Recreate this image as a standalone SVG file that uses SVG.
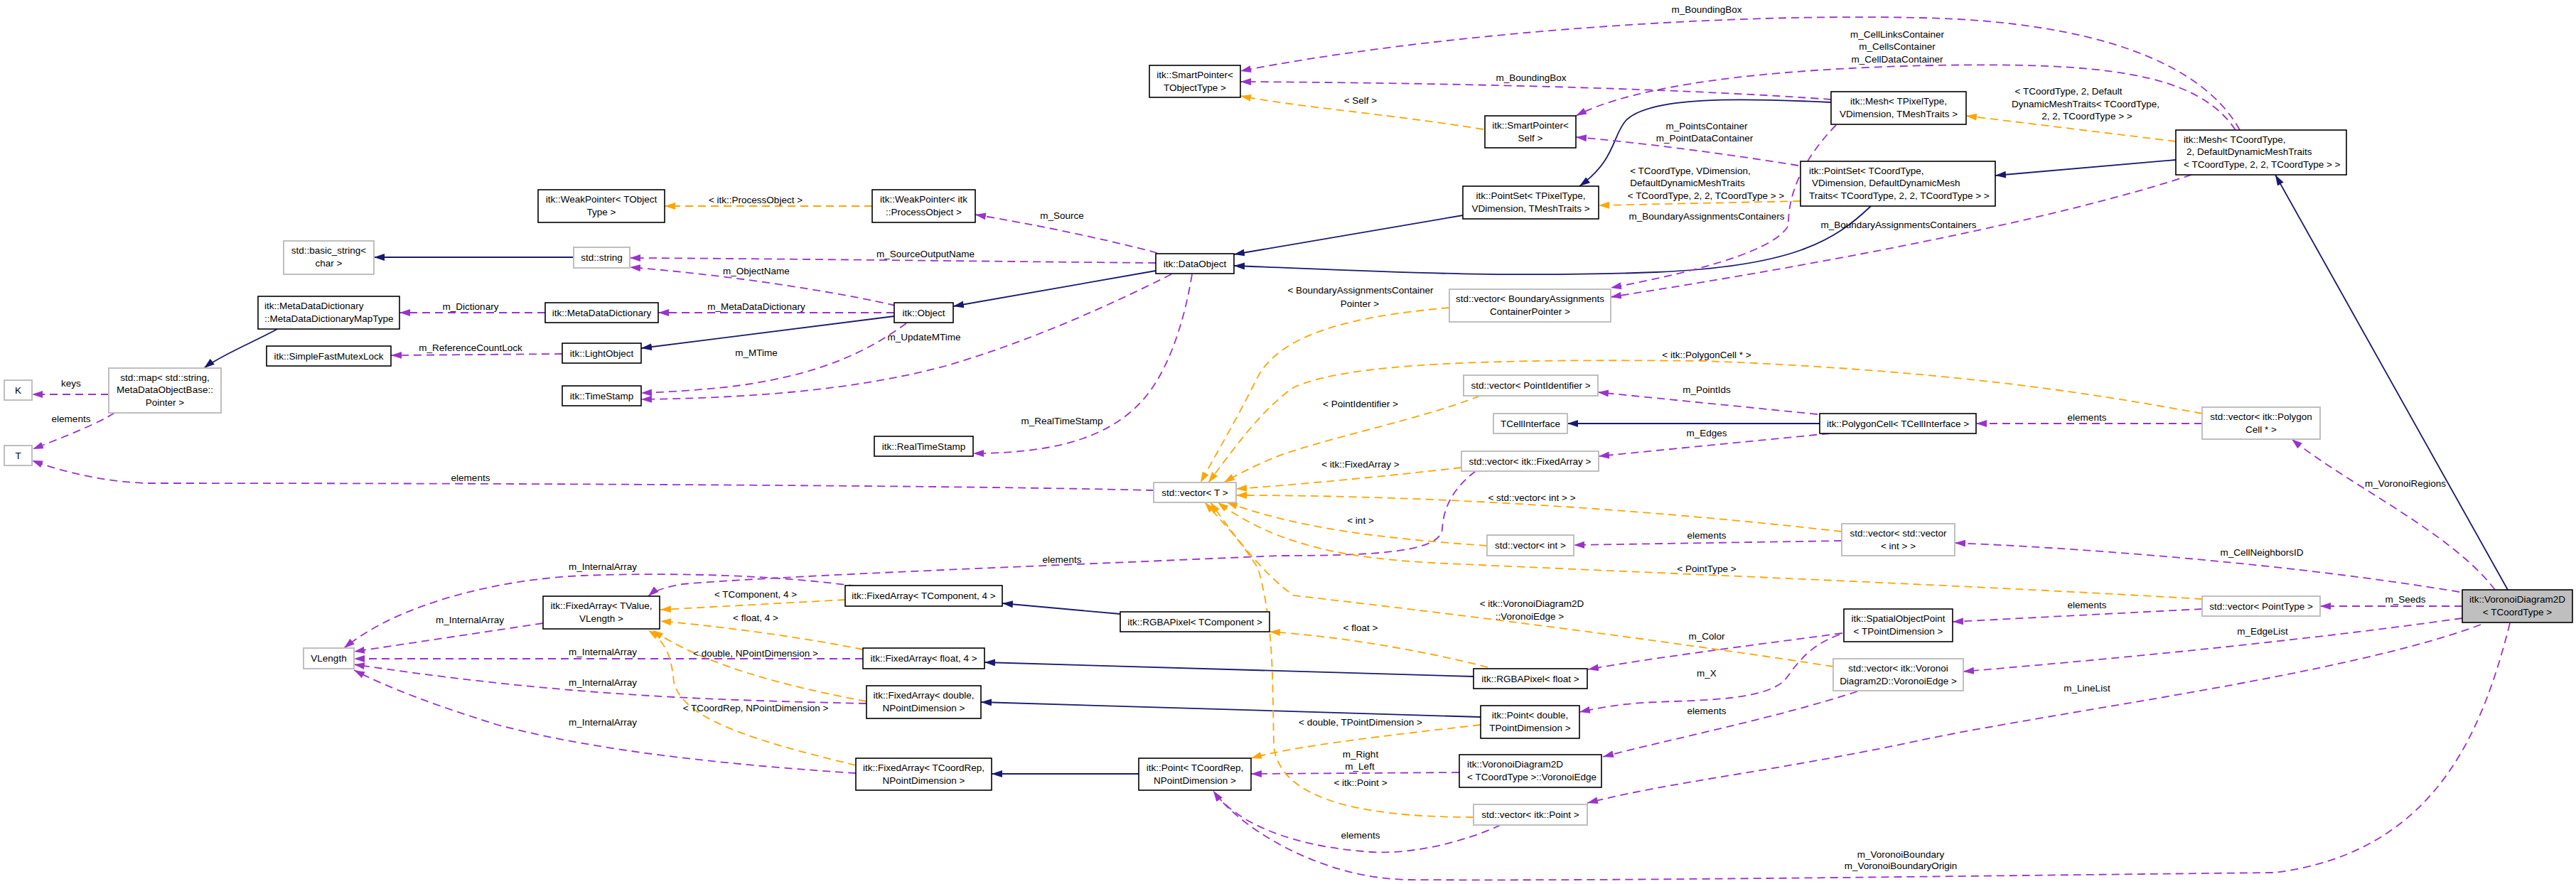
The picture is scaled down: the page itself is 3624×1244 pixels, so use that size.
<svg xmlns="http://www.w3.org/2000/svg" width="3624" height="1244" viewBox="0 0 3624 1244">
<style>
text{font-family:"Liberation Sans",Arial,sans-serif;font-size:13.5px;fill:#000;text-anchor:middle}
text.l{text-anchor:start}
.n rect{fill:#fff;stroke:#000;stroke-width:1.6}
.g rect{fill:#fff;stroke:#bfbfbf;stroke-width:2}
.c rect{fill:#bfbfbf;stroke:#000;stroke-width:1.6}
.inh{stroke:#191970;stroke-width:1.8;fill:none;marker-end:url(#aB)}
.use{stroke:#9a32cd;stroke-width:1.8;fill:none;stroke-dasharray:11,7;marker-end:url(#aP)}
.tpl{stroke:#ffa500;stroke-width:1.8;fill:none;stroke-dasharray:11,7;marker-end:url(#aO)}
</style>
<defs>
<marker id="aB" markerUnits="userSpaceOnUse" markerWidth="16" markerHeight="12" refX="15" refY="5" orient="auto"><path d="M0,0 L15,5 L0,10 z" fill="#191970"/></marker>
<marker id="aP" markerUnits="userSpaceOnUse" markerWidth="16" markerHeight="12" refX="15" refY="5" orient="auto"><path d="M0,0 L15,5 L0,10 z" fill="#9a32cd"/></marker>
<marker id="aO" markerUnits="userSpaceOnUse" markerWidth="16" markerHeight="12" refX="15" refY="5" orient="auto"><path d="M0,0 L15,5 L0,10 z" fill="#ffa500"/></marker>
</defs>
<rect width="3624" height="1244" fill="#fff"/>
<g id="edges">
<path class="inh" d="M807,362 L526,362"/>
<path class="inh" d="M1626,381 L1341,431"/>
<path class="inh" d="M1258,445 L902,490"/>
<path class="inh" d="M390,463 C360,480 310,500 287,518"/>
<path class="inh" d="M2058,303 L1736,358"/>
<path class="inh" d="M2576,144 C2450,138 2320,135 2287,170 C2268,192 2273,225 2222,262"/>
<path class="inh" d="M2632,290 C2580,340 2520,375 2330,383 C2100,392 1900,380 1736,374"/>
<path class="inh" d="M3061,225 L2807,247"/>
<path class="inh" d="M3528,830 L3201,246"/>
<path class="inh" d="M2560,596 L2205,596"/>
<path class="inh" d="M1576,864 L1410,849"/>
<path class="inh" d="M2073,952 L1385,932"/>
<path class="inh" d="M2083,1009 L1380,988"/>
<path class="inh" d="M1602,1089 L1395,1089"/>

<path class="use" d="M1626,370 C1400,368 1100,364 886,363"/>
<path class="use" d="M1260,430 C1150,405 1000,385 886,376"/>
<path class="use" d="M1628,356 C1550,335 1450,315 1372,302"/>
<path class="use" d="M1258,440 L926,440"/>
<path class="use" d="M767,440 L562,440"/>
<path class="use" d="M791,498 L550,500"/>
<path class="use" d="M1275,455 C1220,495 1150,530 1020,545 C970,550 930,552 902,553"/>
<path class="use" d="M1648,386 C1560,430 1450,480 1330,515 C1200,550 1050,560 902,562"/>
<path class="use" d="M1677,386 C1665,460 1640,530 1604,567 C1565,608 1500,638 1369,638"/>
<path class="use" d="M153,555 L45,555"/>
<path class="use" d="M161,581 C140,595 90,615 46,632"/>
<path class="use" d="M1623,690 C1300,682 600,680 205,680 C150,678 90,665 45,648"/>
<path class="use" d="M3151,183 C3100,90 2950,30 2700,25 C2400,18 2000,50 1745,100"/>
<path class="use" d="M2576,140 C2400,127 2100,117 1745,115"/>
<path class="use" d="M3145,183 C3090,100 2950,88 2720,92 C2480,97 2300,120 2217,163"/>
<path class="use" d="M2530,233 C2420,215 2300,200 2217,193"/>
<path class="use" d="M2583,176 C2540,220 2515,270 2516,317 C2500,350 2400,380 2266,405"/>
<path class="use" d="M3083,246 C2950,290 2700,350 2266,418"/>
<path class="use" d="M2557,583 L2248,552"/>
<path class="use" d="M2574,610 L2249,642"/>
<path class="use" d="M3098,596 L2780,596"/>
<path class="use" d="M3510,830 C3450,750 3300,680 3224,618"/>
<path class="use" d="M3460,833 C3200,790 2900,770 2750,764"/>
<path class="use" d="M2591,761 L2214,767"/>
<path class="use" d="M3464,853 L3264,853"/>
<path class="use" d="M3098,857 L2747,875"/>
<path class="use" d="M3464,870 C3250,900 3000,925 2762,945"/>
<path class="use" d="M3490,879 C3300,950 2900,1000 2700,1042 C2500,1085 2350,1100 2233,1130"/>
<path class="use" d="M3531,877 C3490,1040 3420,1200 3200,1228 C2800,1232 2300,1240 1980,1238 C1850,1235 1740,1160 1707,1113"/>
<path class="use" d="M2592,891 C2450,910 2330,925 2234,942"/>
<path class="use" d="M2588,893 C2540,910 2525,940 2510,958 C2480,985 2400,985 2330,988 C2280,990 2250,996 2222,1002"/>
<path class="use" d="M2613,973 C2500,1010 2350,1040 2255,1065"/>
<path class="use" d="M2053,1087 L1760,1089"/>
<path class="use" d="M2111,1161 C2060,1185 1980,1205 1917,1198 C1820,1190 1740,1160 1707,1113"/>
<path class="use" d="M2076,663 C2040,690 2030,720 2029,745 C2025,775 1950,782 1800,782 C1500,795 1100,810 960,822 C935,826 920,832 912,839"/>
<path class="use" d="M764,877 L498,917"/>
<path class="use" d="M1205,825 C1100,810 950,805 820,810 C700,815 560,850 484,912"/>
<path class="use" d="M1214,927 L498,927"/>
<path class="use" d="M1219,990 C1000,985 800,980 498,935"/>
<path class="use" d="M1204,1088 C1050,1078 850,1060 700,1020 C620,995 550,970 498,943"/>

<path class="tpl" d="M1227,290 L935,290"/>
<path class="tpl" d="M2087,182 C1950,160 1820,150 1745,135"/>
<path class="tpl" d="M2533,283 L2249,289"/>
<path class="tpl" d="M3061,199 L2766,163"/>
<path class="tpl" d="M1189,844 L929,858"/>
<path class="tpl" d="M1214,914 C1120,895 1000,880 929,874"/>
<path class="tpl" d="M1219,987 C1100,965 990,935 918,887"/>
<path class="tpl" d="M1204,1077 C1050,1040 960,1010 948,960 C945,930 940,905 912,887"/>
<path class="tpl" d="M2093,939 C2000,915 1880,895 1786,889"/>
<path class="tpl" d="M2083,1020 C1950,1035 1820,1050 1760,1067"/>
<path class="tpl" d="M2039,433 C1900,445 1800,470 1768,533 C1740,590 1710,640 1689,679"/>
<path class="tpl" d="M3098,582 C2900,545 2700,520 2400,508 C2100,505 1900,510 1820,545 C1770,580 1730,640 1700,679"/>
<path class="tpl" d="M2082,557 C2000,590 1850,620 1790,645 C1760,658 1740,668 1722,679"/>
<path class="tpl" d="M2056,658 C1950,670 1850,680 1739,688"/>
<path class="tpl" d="M2591,748 C2300,715 2000,697 1739,697"/>
<path class="tpl" d="M2092,768 C1950,758 1830,745 1726,707"/>
<path class="tpl" d="M3098,843 C2800,825 2300,805 2035,793 C1900,787 1800,770 1713,707"/>
<path class="tpl" d="M2579,938 C2400,910 2100,870 1820,838 C1780,810 1740,760 1703,707"/>
<path class="tpl" d="M2073,1150 C1900,1150 1800,1120 1792,1050 C1790,950 1792,880 1770,800 C1745,760 1720,735 1695,707"/>

<text x="1063" y="286">&lt; itk::ProcessObject &gt;</text>
<text x="1494" y="308">m_Source</text>
<text x="1302" y="362">m_SourceOutputName</text>
<text x="1064" y="386">m_ObjectName</text>
<text x="1064" y="436">m_MetaDataDictionary</text>
<text x="662" y="436">m_Dictionary</text>
<text x="662" y="494">m_ReferenceCountLock</text>
<text x="1300" y="479">m_UpdateMTime</text>
<text x="1064" y="501">m_MTime</text>
<text x="1494" y="597">m_RealTimeStamp</text>
<text x="100" y="544">keys</text>
<text x="100" y="594">elements</text>
<text x="662" y="677">elements</text>
<text x="2401" y="18">m_BoundingBox</text>
<text x="2154" y="114">m_BoundingBox</text>
<text x="1914" y="146">&lt; Self &gt;</text>
<text x="2669" y="53">m_CellLinksContainer</text>
<text x="2669" y="70">m_CellsContainer</text>
<text x="2669" y="88">m_CellDataContainer</text>
<text x="2910" y="133">&lt; TCoordType, 2, Default</text>
<text x="2934" y="151">DynamicMeshTraits&lt; TCoordType,</text>
<text x="2936" y="168">2, 2, TCoordType &gt; &gt;</text>
<text x="2401" y="182">m_PointsContainer</text>
<text x="2398" y="199">m_PointDataContainer</text>
<text x="2378" y="245">&lt; TCoordType, VDimension,</text>
<text x="2374" y="262">DefaultDynamicMeshTraits</text>
<text x="2400" y="280">&lt; TCoordType, 2, 2, TCoordType &gt; &gt;</text>
<text x="2401" y="309">m_BoundaryAssignmentsContainers</text>
<text x="2671" y="321">m_BoundaryAssignmentsContainers</text>
<text x="1914" y="413">&lt; BoundaryAssignmentsContainer</text>
<text x="1913" y="432">Pointer &gt;</text>
<text x="2401" y="504">&lt; itk::PolygonCell * &gt;</text>
<text x="2401" y="553">m_PointIds</text>
<text x="1914" y="573">&lt; PointIdentifier &gt;</text>
<text x="2936" y="592">elements</text>
<text x="2401" y="614">m_Edges</text>
<text x="1914" y="658">&lt; itk::FixedArray &gt;</text>
<text x="3384" y="685">m_VoronoiRegions</text>
<text x="2155" y="705">&lt; std::vector&lt; int &gt; &gt;</text>
<text x="1914" y="737">&lt; int &gt;</text>
<text x="2401" y="758">elements</text>
<text x="3182" y="782">m_CellNeighborsID</text>
<text x="1494" y="792">elements</text>
<text x="848" y="802">m_InternalArray</text>
<text x="2401" y="805">&lt; PointType &gt;</text>
<text x="1063" y="841">&lt; TComponent, 4 &gt;</text>
<text x="3384" y="848">m_Seeds</text>
<text x="2155" y="854">&lt; itk::VoronoiDiagram2D</text>
<text x="2152" y="872">::VoronoiEdge &gt;</text>
<text x="2936" y="856">elements</text>
<text x="1063" y="874">&lt; float, 4 &gt;</text>
<text x="661" y="877">m_InternalArray</text>
<text x="1914" y="888">&lt; float &gt;</text>
<text x="3183" y="893">m_EdgeList</text>
<text x="2401" y="900">m_Color</text>
<text x="848" y="922">m_InternalArray</text>
<text x="1063" y="924">&lt; double, NPointDimension &gt;</text>
<text x="2401" y="952">m_X</text>
<text x="848" y="965">m_InternalArray</text>
<text x="2936" y="973">m_LineList</text>
<text x="1063" y="1001">&lt; TCoordRep, NPointDimension &gt;</text>
<text x="2401" y="1005">elements</text>
<text x="1914" y="1021">&lt; double, TPointDimension &gt;</text>
<text x="848" y="1021">m_InternalArray</text>
<text x="1914" y="1066">m_Right</text>
<text x="1913" y="1083">m_Left</text>
<text x="1914" y="1106">&lt; itk::Point &gt;</text>
<text x="1914" y="1180">elements</text>
<text x="2674" y="1207">m_VoronoiBoundary</text>
<text x="2674" y="1223">m_VoronoiBoundaryOrigin</text>
</g>

<g id="n1" class="n"><rect x="757" y="267" width="178" height="46"/><text x="846" y="285">itk::WeakPointer&lt; TObject</text><text x="846" y="303">Type &gt;</text></g>
<g id="n2" class="g"><rect x="399" y="339" width="127" height="47"/><text x="462.5" y="357">std::basic_string&lt;</text><text x="462.5" y="375">char &gt;</text></g>
<g id="n3" class="g"><rect x="807" y="348" width="79" height="29"/><text x="846.5" y="367">std::string</text></g>
<g id="n4" class="n"><rect x="363" y="417" width="199" height="46"/><text class="l" x="372" y="435">itk::MetaDataDictionary</text><text class="l" x="372" y="453">::MetaDataDictionaryMapType</text></g>
<g id="n5" class="n"><rect x="767" y="426" width="159" height="28"/><text x="846.5" y="445">itk::MetaDataDictionary</text></g>
<g id="n6" class="n"><rect x="375" y="487" width="175" height="28"/><text x="462.5" y="506">itk::SimpleFastMutexLock</text></g>
<g id="n7" class="n"><rect x="791" y="483" width="111" height="28"/><text x="846.5" y="502">itk::LightObject</text></g>
<g id="n8" class="n"><rect x="791" y="543" width="111" height="28"/><text x="846.5" y="562">itk::TimeStamp</text></g>
<g id="n9" class="g"><rect x="6" y="535" width="39" height="28"/><text x="25.5" y="554">K</text></g>
<g id="n10" class="g"><rect x="153" y="518" width="158" height="63"/><text x="232" y="536">std::map&lt; std::string,</text><text x="232" y="553">MetaDataObjectBase::</text><text x="232" y="571">Pointer &gt;</text></g>
<g id="n11" class="g"><rect x="6" y="627" width="39" height="28"/><text x="25.5" y="646">T</text></g>
<g id="n12" class="n"><rect x="1258" y="426" width="83" height="28"/><text x="1299.5" y="445">itk::Object</text></g>
<g id="n13" class="n"><rect x="1230" y="614" width="139" height="28"/><text x="1299.5" y="633">itk::RealTimeStamp</text></g>
<g id="n14" class="g"><rect x="1623" y="679" width="116" height="28"/><text x="1681" y="698">std::vector&lt; T &gt;</text></g>
<g id="n15" class="n"><rect x="1227" y="267" width="145" height="46"/><text x="1299.5" y="285">itk::WeakPointer&lt; itk</text><text x="1299.5" y="303">::ProcessObject &gt;</text></g>
<g id="n16" class="n"><rect x="1617" y="92" width="128" height="45"/><text x="1681" y="110">itk::SmartPointer&lt;</text><text x="1681" y="128">TObjectType &gt;</text></g>
<g id="n17" class="n"><rect x="1626" y="357" width="110" height="28"/><text x="1681" y="376">itk::DataObject</text></g>
<g id="n18" class="n"><rect x="2089" y="163" width="128" height="45"/><text x="2153" y="181">itk::SmartPointer&lt;</text><text x="2153" y="199">Self &gt;</text></g>
<g id="n19" class="n"><rect x="2058" y="262" width="191" height="46"/><text x="2153.5" y="280">itk::PointSet&lt; TPixelType,</text><text x="2153.5" y="298">VDimension, TMeshTraits &gt;</text></g>
<g id="n20" class="n"><rect x="2576" y="129" width="190" height="46"/><text x="2671" y="147">itk::Mesh&lt; TPixelType,</text><text x="2671" y="165">VDimension, TMeshTraits &gt;</text></g>
<g id="n21" class="n"><rect x="2533" y="227" width="274" height="63"/><text class="l" x="2545" y="245">itk::PointSet&lt; TCoordType,</text><text class="l" x="2549" y="262">VDimension, DefaultDynamicMesh</text><text class="l" x="2545" y="280">Traits&lt; TCoordType, 2, 2, TCoordType &gt; &gt;</text></g>
<g id="n22" class="n"><rect x="3061" y="183" width="240" height="63"/><text class="l" x="3072" y="201">itk::Mesh&lt; TCoordType,</text><text class="l" x="3076" y="218">2, DefaultDynamicMeshTraits</text><text class="l" x="3072" y="236">&lt; TCoordType, 2, 2, TCoordType &gt; &gt;</text></g>
<g id="n23" class="g"><rect x="2039" y="407" width="227" height="46"/><text x="2152.5" y="425">std::vector&lt; BoundaryAssignments</text><text x="2152.5" y="443">ContainerPointer &gt;</text></g>
<g id="n24" class="g"><rect x="2059" y="528" width="189" height="29"/><text x="2153.5" y="547">std::vector&lt; PointIdentifier &gt;</text></g>
<g id="n25" class="g"><rect x="2101" y="582" width="104" height="28"/><text x="2153" y="601">TCellInterface</text></g>
<g id="n26" class="n"><rect x="2560" y="582" width="220" height="28"/><text x="2670" y="601">itk::PolygonCell&lt; TCellInterface &gt;</text></g>
<g id="n27" class="g"><rect x="2056" y="635" width="193" height="28"/><text x="2152.5" y="654">std::vector&lt; itk::FixedArray &gt;</text></g>
<g id="n28" class="g"><rect x="2591" y="737" width="159" height="45"/><text x="2670.5" y="755">std::vector&lt; std::vector</text><text x="2670.5" y="773">&lt; int &gt; &gt;</text></g>
<g id="n29" class="g"><rect x="2092" y="753" width="122" height="29"/><text x="2153" y="772">std::vector&lt; int &gt;</text></g>
<g id="n30" class="g"><rect x="3098" y="573" width="166" height="45"/><text x="3181" y="591">std::vector&lt; itk::Polygon</text><text x="3181" y="609">Cell * &gt;</text></g>
<g id="n31" class="c"><rect x="3464" y="830" width="155" height="46"/><text x="3541.5" y="848">itk::VoronoiDiagram2D</text><text x="3541.5" y="866">&lt; TCoordType &gt;</text></g>
<g id="n32" class="g"><rect x="3098" y="839" width="166" height="28"/><text x="3181" y="858">std::vector&lt; PointType &gt;</text></g>
<g id="n33" class="n"><rect x="2594" y="857" width="153" height="46"/><text x="2670.5" y="875">itk::SpatialObjectPoint</text><text x="2670.5" y="893">&lt; TPointDimension &gt;</text></g>
<g id="n34" class="g"><rect x="2579" y="927" width="183" height="45"/><text x="2670.5" y="945">std::vector&lt; itk::Voronoi</text><text x="2670.5" y="963">Diagram2D::VoronoiEdge &gt;</text></g>
<g id="n35" class="n"><rect x="2073" y="941" width="160" height="28"/><text x="2153" y="960">itk::RGBAPixel&lt; float &gt;</text></g>
<g id="n36" class="n"><rect x="2083" y="993" width="139" height="46"/><text x="2152.5" y="1011">itk::Point&lt; double,</text><text x="2152.5" y="1029">TPointDimension &gt;</text></g>
<g id="n37" class="n"><rect x="2053" y="1062" width="200" height="46"/><text class="l" x="2064" y="1080">itk::VoronoiDiagram2D</text><text class="l" x="2064" y="1098">&lt; TCoordType &gt;::VoronoiEdge</text></g>
<g id="n38" class="g"><rect x="2073" y="1132" width="160" height="29"/><text x="2153" y="1151">std::vector&lt; itk::Point &gt;</text></g>
<g id="n39" class="n"><rect x="1602" y="1067" width="158" height="45"/><text x="1681" y="1085">itk::Point&lt; TCoordRep,</text><text x="1681" y="1103">NPointDimension &gt;</text></g>
<g id="n40" class="n"><rect x="1204" y="1067" width="191" height="45"/><text x="1299.5" y="1085">itk::FixedArray&lt; TCoordRep,</text><text x="1299.5" y="1103">NPointDimension &gt;</text></g>
<g id="n41" class="n"><rect x="1219" y="965" width="161" height="46"/><text x="1299.5" y="983">itk::FixedArray&lt; double,</text><text x="1299.5" y="1001">NPointDimension &gt;</text></g>
<g id="n42" class="n"><rect x="1214" y="912" width="171" height="29"/><text x="1299.5" y="931">itk::FixedArray&lt; float, 4 &gt;</text></g>
<g id="n43" class="n"><rect x="1189" y="824" width="221" height="29"/><text x="1299.5" y="843">itk::FixedArray&lt; TComponent, 4 &gt;</text></g>
<g id="n44" class="n"><rect x="1576" y="861" width="210" height="28"/><text x="1681" y="880">itk::RGBAPixel&lt; TComponent &gt;</text></g>
<g id="n45" class="n"><rect x="764" y="839" width="164" height="46"/><text x="846" y="857">itk::FixedArray&lt; TValue,</text><text x="846" y="875">VLength &gt;</text></g>
<g id="n46" class="g"><rect x="427" y="912" width="71" height="29"/><text x="462.5" y="931">VLength</text></g>
</svg>
